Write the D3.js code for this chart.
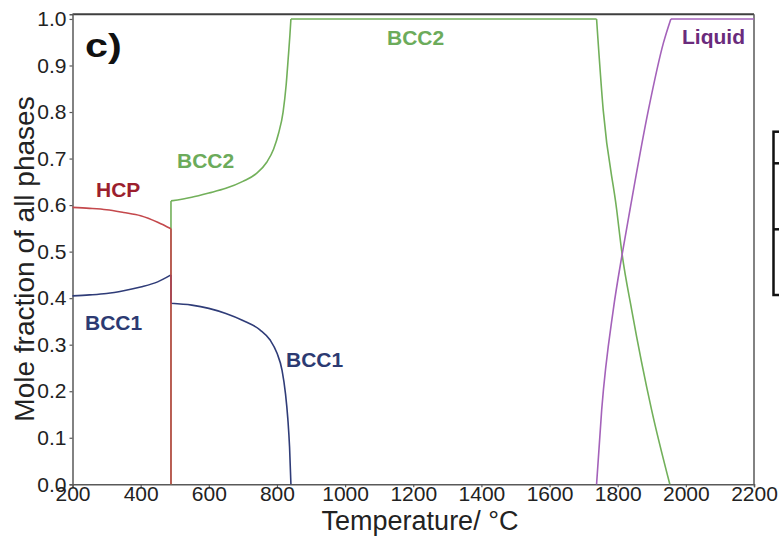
<!DOCTYPE html>
<html>
<head>
<meta charset="utf-8">
<script src="https://cdn.jsdelivr.net/npm/d3@7"></script>
<style>
  html, body { margin: 0; padding: 0; background: #fff; }
  svg { display: block; font-family: "Liberation Sans", Arial, Helvetica, sans-serif; }
</style>
</head>
<body>
<svg id="chart" width="779" height="541"></svg>
<script>
// Axis ticks
const tempTicks = [200, 400, 600, 800, 1000, 1200, 1400, 1600, 1800, 2000, 2200];
const fracTicks = [0, 0.1, 0.2, 0.3, 0.4, 0.5, 0.6, 0.7, 0.8, 0.9, 1.0];

// Phase fractions vs temperature (°C); a repeated temperature marks a jump or a sharp corner
const hcpTemp = [200, 250, 300, 350, 400, 450, 489, 489];
const hcpFrac = [0.595, 0.593, 0.590, 0.584, 0.577, 0.563, 0.549, 0.0];

const bcc1Temp = [200, 250, 300, 350, 400, 450, 489, 489, 550, 600, 650, 700, 750, 780, 800, 815, 825, 832, 837, 841];
const bcc1Frac = [0.405, 0.407, 0.410, 0.416, 0.424, 0.435, 0.450, 0.389, 0.385, 0.378, 0.367, 0.352, 0.332, 0.310, 0.282, 0.245, 0.195, 0.140, 0.080, 0.0];

const bcc2Temp = [489, 489, 550, 600, 650, 700, 740, 770, 790, 805, 818, 827, 833, 838, 841, 841, 1738, 1738, 1757.5, 1797, 1813, 1841, 1899.5, 1953];
const bcc2Frac = [0.0, 0.609, 0.617, 0.626, 0.636, 0.651, 0.668, 0.692, 0.720, 0.755, 0.800, 0.858, 0.915, 0.965, 1.0, 1.0, 1.0, 1.0, 0.804, 0.590, 0.494, 0.375, 0.160, 0.0];

const liquidTemp = [1738, 1753, 1787, 1813, 1836, 1890, 1934, 1956, 1956, 2200];
const liquidFrac = [0.0, 0.160, 0.375, 0.494, 0.590, 0.804, 0.948, 1.0, 1.0, 1.0];

const phaseNames = ["HCP", "BCC1", "BCC2", "Liquid"];

const svg = d3.select("#chart");
const margin = { left: 72.5, right: 25, top: 14.3, bottom: 56.7 };
const W = 779, H = 541;
const iw = W - margin.left - margin.right;
const ih = H - margin.top - margin.bottom;

const x = d3.scaleLinear().domain([200, 2200]).range([0, iw]);
const y = d3.scaleLinear().domain([0, 1.01]).range([ih, 0]);

const g = svg.append("g").attr("transform", `translate(${margin.left},${margin.top})`);

// Frame: top and right edges
g.append("line").attr("x1", 0).attr("x2", iw).attr("y1", 0).attr("y2", 0)
  .attr("stroke", "#3f3f3f").attr("stroke-width", 2);
g.append("line").attr("x1", iw).attr("x2", iw).attr("y1", 0).attr("y2", ih)
  .attr("stroke", "#595959").attr("stroke-width", 1.5);

// Axes
const xAxis = g.append("g").attr("transform", `translate(0,${ih})`)
  .call(d3.axisBottom(x).tickValues(tempTicks).tickFormat(d3.format("d")).tickSize(3).tickPadding(-1));
const yAxis = g.append("g")
  .call(d3.axisLeft(y).tickValues(fracTicks).tickFormat(d3.format(".1f")).tickSize(3).tickPadding(3));

[xAxis, yAxis].forEach(a => {
  a.select(".domain").attr("stroke", "#595959").attr("stroke-width", 1.5);
  a.selectAll(".tick line").attr("stroke", "#595959").attr("stroke-width", 1.2);
  a.selectAll(".tick text").attr("fill", "#222").style("font-size", "21px")
    .style("font-family", "\"Liberation Sans\", Arial, sans-serif");
});

// Axis titles
svg.append("text")
  .attr("x", 420).attr("y", 530)
  .attr("text-anchor", "middle").attr("fill", "#222")
  .style("font-size", "27px")
  .text("Temperature/ °C");
svg.append("text")
  .attr("transform", "translate(34,259) rotate(-90)")
  .attr("text-anchor", "middle").attr("fill", "#222")
  .style("font-size", "28px")
  .text("Mole fraction of all phases");

// Split a series at repeated temperatures so jumps and corners stay sharp
function runs(temps, fracs) {
  const pts = temps.map((t, i) => [t, fracs[i]]);
  const out = [];
  let cur = [pts[0]];
  for (let i = 1; i < pts.length; i++) {
    const p = pts[i], last = cur[cur.length - 1];
    if (p[0] === last[0]) {
      if (cur.length > 1) out.push(cur);
      if (p[1] !== last[1]) out.push([last, p]);
      cur = [p];
    } else {
      cur.push(p);
    }
  }
  if (cur.length > 1) out.push(cur);
  return out;
}

const line = d3.line().x(d => x(d[0])).y(d => y(d[1])).curve(d3.curveMonotoneX);

const series = [
  { name: phaseNames[2], t: bcc2Temp, f: bcc2Frac, color: "#72b05a" },
  { name: phaseNames[3], t: liquidTemp, f: liquidFrac, color: "#a462ba" },
  { name: phaseNames[1], t: bcc1Temp, f: bcc1Frac, color: "#2f3c78" },
  { name: phaseNames[0], t: hcpTemp, f: hcpFrac, color: "#c4484c" }
];

series.forEach(s => {
  g.append("path")
    .attr("fill", "none").attr("stroke", s.color).attr("stroke-width", 1.6)
    .attr("stroke-linejoin", "round")
    .attr("d", runs(s.t, s.f).map(r => line(r)).join(""));
});

// Phase labels
const labels = [
  { text: "HCP", x: 96, y: 197, color: "#9c1f2e" },
  { text: "BCC2", x: 177, y: 168, color: "#6cab5b" },
  { text: "BCC1", x: 85, y: 330, color: "#2c3a72" },
  { text: "BCC1", x: 286, y: 367, color: "#2c3a72" },
  { text: "BCC2", x: 387, y: 45, color: "#6cab5b" },
  { text: "Liquid", x: 682, y: 44, color: "#6a2b7c" }
];
labels.forEach(l => {
  svg.append("text").attr("x", l.x).attr("y", l.y)
    .attr("fill", l.color).style("font-size", "21px").style("font-weight", "bold")
    .text(l.text);
});

// Panel letter
svg.append("text").attr("transform", "translate(85,57) scale(1.25,1)")
  .attr("fill", "#111").style("font-size", "33px").style("font-weight", "bold")
  .text("c)");

// Edge of the neighbouring table
const tb = svg.append("g").attr("fill", "none").attr("stroke", "#111").attr("stroke-width", 2.5);
tb.append("rect").attr("x", 773.5).attr("y", 131.7).attr("width", 40).attr("height", 163.3);
tb.append("line").attr("x1", 773.5).attr("x2", 800).attr("y1", 163.3).attr("y2", 163.3);
tb.append("line").attr("x1", 773.5).attr("x2", 800).attr("y1", 229.3).attr("y2", 229.3);
</script>
</body>
</html>
